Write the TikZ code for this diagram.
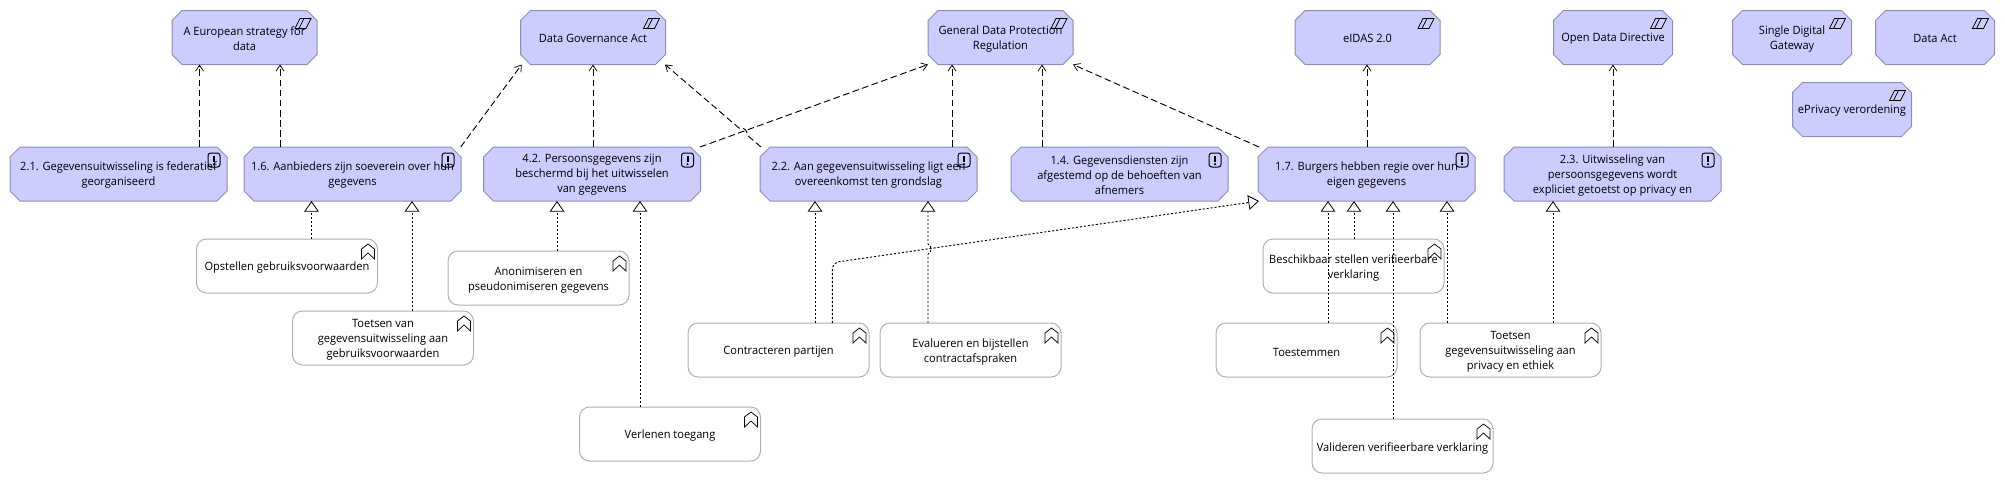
\documentclass[tikz,border=0pt]{standalone}
\usepackage{fontspec}
\setmainfont{Open Sans}[FakeStretch=0.965]
\usetikzlibrary{arrows.meta}
\definecolor{goalfill}{HTML}{CCCCFF}
\definecolor{goalline}{HTML}{8C8CB8}
\definecolor{stepline}{HTML}{B0B0B0}
\tikzset{
  lab/.style={inner sep=0pt,outer sep=0pt,align=center,text=black,
    font=\fontsize{8.6}{11.25}\selectfont},
  base/.style={inner sep=0pt,outer sep=0pt,line width=.75pt,minimum height=40.5pt,rectangle},
  req/.style={base,minimum width=162.75pt},
  lawbig/.style={base,minimum width=108.75pt},
  lawsmall/.style={base,minimum width=89.25pt},
  stepbox/.style={base,rounded corners=7.5pt,draw=stepline,fill=white,minimum width=135.75pt},
  octline/.style={line width=.75pt,draw=goalline,fill=goalfill},
  infl/.style={line width=.7pt,dash pattern=on 5pt off 2.6pt,
    -{Straight Barb[length=4.5pt,width=6pt,line width=.55pt]}},
  reali/.style={line width=.7pt,dash pattern=on 1.6pt off 1.4pt,
    -{Triangle[open,length=8pt,width=11pt,line width=.6pt,fill=white]}},
  icon/.style={draw=black,line width=.55pt,fill=none}
}
% octagon: style, name, centre x, centre y, half width, text
\newcommand{\octnode}[6]{%
  \draw[octline] (#3-#5+10,#4-27) -- (#3+#5-10,#4-27) -- (#3+#5,#4-17) -- (#3+#5,#4+17)
     -- (#3+#5-10,#4+27) -- (#3-#5+10,#4+27) -- (#3-#5,#4+17) -- (#3-#5,#4-17) -- cycle;
  \node[#1,label={[lab,yshift=-.8pt]center:{#6}}] (#2) at (#3,#4) {};}
\newcommand{\stepnode}[4]{\node[stepbox,label={[lab,yshift=-1.5pt]center:{#4}}] (#1) at (#2,#3) {};}
\newcommand{\conn}[5]{\draw[#1] (#2.north -| #3,0) -- (#4.south -| #5,0);}
\newcommand{\lawicon}[1]{\begin{scope}[shift={(#1.north east)}]
  \draw[icon] (-22,18) -- (-17,8) -- (-6,8) -- (-11,18) -- cycle;
  \draw[icon] (-18,18) -- (-13,8);
\end{scope}}
\newcommand{\reqicon}[1]{\begin{scope}[shift={(#1.north east)}]
  \draw[icon,rounded corners=2pt,line width=.75pt] (-19,6) rectangle (-7,20);
  \draw[line width=1.5pt,black] (-13,8.5) -- (-13,15);
  \fill[black] (-13,17.2) circle (.9pt);
\end{scope}}
\newcommand{\stepicon}[1]{\begin{scope}[shift={(#1.north east)}]
  \draw[icon] (-16,10) -- (-9.5,5) -- (-3,10) -- (-3,20) -- (-9.5,14) -- (-16,20) -- cycle;
\end{scope}}
\begin{document}
\begin{tikzpicture}[x=.75pt,y=-.75pt]
\useasboundingbox (0,0) rectangle (2005,483);
% laws
\octnode{lawbig}{aes}{244.5}{37.5}{72.5}{A European strategy for\\data}
\octnode{lawbig}{dga}{593}{37.5}{72.5}{Data Governance Act}
\octnode{lawbig}{gdpr}{1000.5}{37.5}{72.5}{General Data Protection\\Regulation}
\octnode{lawbig}{eidas}{1367.5}{37.5}{72.5}{eIDAS 2.0}
\octnode{lawsmall}{odd}{1613}{37.5}{59.5}{Open Data Directive}
\octnode{lawsmall}{sdg}{1792}{37.5}{59.5}{Single Digital\\Gateway}
\octnode{lawsmall}{dact}{1935}{37.5}{59.5}{Data Act}
\octnode{lawsmall}{epr}{1852}{109.5}{59.5}{ePrivacy verordening}
% requirements
\octnode{req}{r21}{118.5}{174}{108.5}{2.1. Gegevensuitwisseling is federatief\\georganiseerd}
\octnode{req}{r16}{352.5}{174}{108.5}{1.6. Aanbieders zijn soeverein over hun\\gegevens}
\octnode{req}{r42}{592}{174}{108.5}{4.2. Persoonsgegevens zijn\\beschermd bij het uitwisselen\\van gegevens}
\octnode{req}{r22}{868.5}{174}{108.5}{2.2. Aan gegevensuitwisseling ligt een\\overeenkomst ten grondslag}
\octnode{req}{r14}{1119.5}{174}{108.5}{1.4. Gegevensdiensten zijn\\afgestemd op de behoeften van\\afnemers}
\octnode{req}{r17}{1366.5}{174}{108.5}{1.7. Burgers hebben regie over hun\\eigen gegevens}
\octnode{req}{r23}{1612.5}{174}{108.5}{2.3. Uitwisseling van\\persoonsgegevens wordt\\expliciet getoetst op privacy en}
% process steps
\stepnode{s1}{287}{266}{Opstellen gebruiksvoorwaarden}
\stepnode{s2}{383}{338}{Toetsen van\\gegevensuitwisseling aan\\gebruiksvoorwaarden}
\stepnode{s3}{538.5}{278}{Anonimiseren en\\pseudonimiseren gegevens}
\stepnode{s4}{670}{434}{Verlenen toegang}
\stepnode{s5}{778.5}{350}{Contracteren partijen}
\stepnode{s6}{970.5}{350}{Evalueren en bijstellen\\contractafspraken}
\stepnode{s7}{1353.5}{266}{Beschikbaar stellen verifieerbare\\verklaring}
\stepnode{s8}{1306.5}{350}{Toestemmen}
\stepnode{s9}{1510.5}{350}{Toetsen\\gegevensuitwisseling aan\\privacy en ethiek}
\stepnode{s10}{1402.5}{446}{Valideren verifieerbare verklaring}
% icons
\lawicon{aes}\lawicon{dga}\lawicon{gdpr}\lawicon{eidas}\lawicon{odd}\lawicon{sdg}\lawicon{dact}\lawicon{epr}
\reqicon{r21}\reqicon{r16}\reqicon{r42}\reqicon{r22}\reqicon{r14}\reqicon{r17}\reqicon{r23}
\stepicon{s1}\stepicon{s2}\stepicon{s3}\stepicon{s4}\stepicon{s5}\stepicon{s6}\stepicon{s7}\stepicon{s8}\stepicon{s9}\stepicon{s10}
% influence connectors
\conn{infl}{r21}{199.5}{aes}{199.5}
\conn{infl}{r16}{280}{aes}{280}
\conn{infl}{r16}{460.7}{dga}{521.7}
\conn{infl}{r42}{593}{dga}{593}
\conn{infl}{r42}{700}{gdpr}{928}
\draw[infl] (r22.north -| 761,0) -- (746.8,134.8) to[bend right=80] (739.2,128.2) -- (dga.south -| 665,0);
\conn{infl}{r22}{952}{gdpr}{952}
\conn{infl}{r14}{1042}{gdpr}{1042}
\conn{infl}{r17}{1259}{gdpr}{1073}
\conn{infl}{r17}{1367}{eidas}{1367}
\conn{infl}{r23}{1613}{odd}{1613}
% realization connectors
\conn{reali}{s1}{311.5}{r16}{311.5}
\conn{reali}{s2}{412}{r16}{412}
\conn{reali}{s3}{557}{r42}{557}
\conn{reali}{s4}{640}{r42}{640}
\conn{reali}{s5}{815}{r22}{815}
\draw[reali] (s6.north -| 928,0) -- (928,254) to[bend right=80] (928,244) -- (r22.south -| 928,0);
\draw[reali,rounded corners=5pt] (s5.north -| 832.3,0) -- (832.3,262.7) -- (r17.south -| 1259,0);
\conn{reali}{s7}{1354}{r17}{1354}
\conn{reali}{s8}{1328}{r17}{1328}
\conn{reali}{s10}{1393}{r17}{1393}
\conn{reali}{s9}{1447}{r17}{1447}
\conn{reali}{s9}{1553}{r23}{1553}
\end{tikzpicture}
\end{document}
